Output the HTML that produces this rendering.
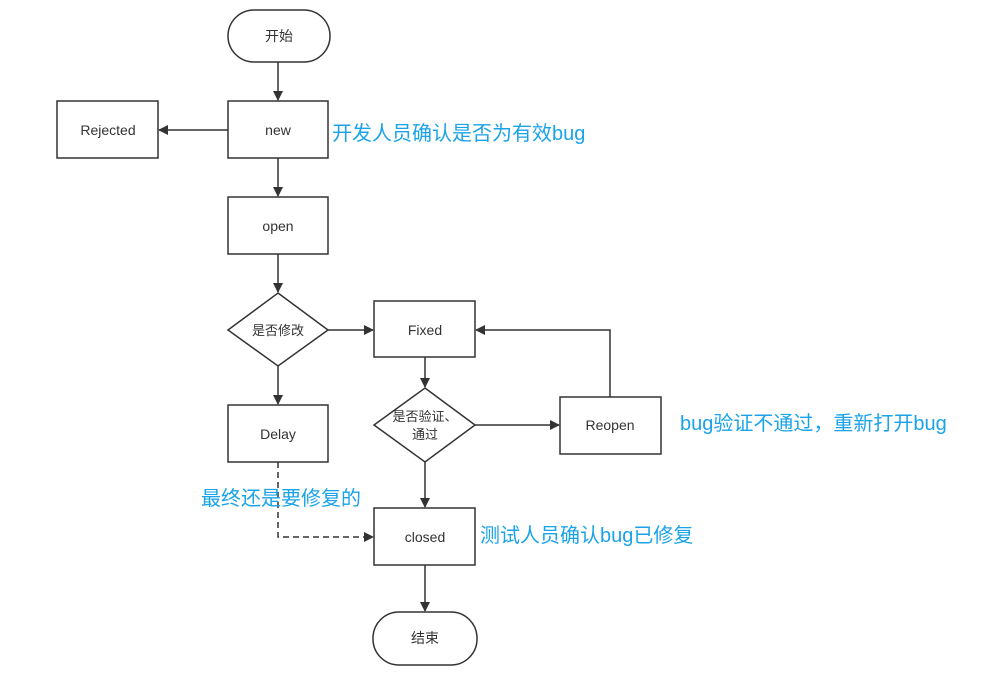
<!DOCTYPE html>
<html><head><meta charset="utf-8"><style>
body{margin:0;background:#fff;width:985px;height:669px;overflow:hidden}
svg text{font-family:"Liberation Sans","Noto Sans CJK SC",sans-serif}
</style></head><body>
<svg width="985" height="669" viewBox="0 0 985 669">
<defs><marker id="a" markerWidth="10" markerHeight="10" refX="9" refY="5" orient="auto" markerUnits="userSpaceOnUse"><path d="M0,0 L10,5 L0,10 Z" fill="#333"/></marker></defs>
<g fill="#fff" stroke="#333" stroke-width="1.5">
<rect x="228" y="10" width="102" height="52" rx="26"/>
<rect x="228" y="101" width="100" height="57"/>
<rect x="57" y="101" width="101" height="57"/>
<rect x="228" y="197" width="100" height="57"/>
<polygon points="278,293 328,330 278,366 228,330"/>
<rect x="374" y="301" width="101" height="56"/>
<rect x="228" y="405" width="100" height="57"/>
<polygon points="425,388 475,425 425,462 374,425"/>
<rect x="560" y="397" width="101" height="57"/>
<rect x="374" y="508" width="101" height="57"/>
<rect x="373" y="612" width="104" height="53" rx="26"/>
</g>
<g stroke="#333" stroke-width="1.5" fill="none" marker-end="url(#a)">
<line x1="278" y1="62" x2="278" y2="100"/>
<line x1="228" y1="130" x2="159" y2="130"/>
<line x1="278" y1="158" x2="278" y2="196"/>
<line x1="278" y1="254" x2="278" y2="292"/>
<line x1="328" y1="330" x2="373" y2="330"/>
<line x1="278" y1="366" x2="278" y2="404"/>
<line x1="425" y1="357" x2="425" y2="387"/>
<line x1="475" y1="425" x2="559" y2="425"/>
<polyline points="610,397 610,330 476,330"/>
<line x1="425" y1="462" x2="425" y2="507"/>
<line x1="425" y1="565" x2="425" y2="611"/>
<polyline points="278,462 278,537 373,537" stroke-dasharray="6,4"/>
</g>
<g font-size="14" fill="#333" text-anchor="middle">
<text x="279" y="41">开始</text>
<text x="278" y="135">new</text>
<text x="108" y="135">Rejected</text>
<text x="278" y="231">open</text>
<text x="278" y="335" font-size="13">是否修改</text>
<text x="425" y="335">Fixed</text>
<text x="278" y="439">Delay</text>
<text x="425" y="421" font-size="13">是否验证、</text>
<text x="425" y="439" font-size="13">通过</text>
<text x="610" y="430">Reopen</text>
<text x="425" y="542">closed</text>
<text x="425" y="643">结束</text>
</g>
<g font-size="20" fill="#1aa3e8">
<text x="332" y="140">开发人员确认是否为有效bug</text>
<text x="680" y="430">bug验证不通过，重新打开bug</text>
<text x="201" y="505">最终还是要修复的</text>
<text x="480" y="542">测试人员确认bug已修复</text>
</g>
</svg>
</body></html>
